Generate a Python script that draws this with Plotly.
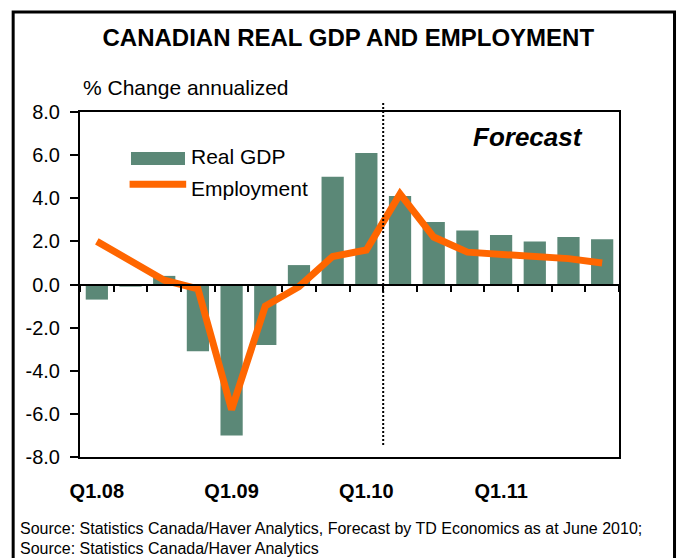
import plotly.graph_objects as go

quarters = ["Q1.08", "Q2.08", "Q3.08", "Q4.08", "Q1.09", "Q2.09", "Q3.09", "Q4.09",
            "Q1.10", "Q2.10", "Q3.10", "Q4.10", "Q1.11", "Q2.11", "Q3.11", "Q4.11"]
real_gdp = [-0.7, -0.1, 0.4, -3.1, -7.0, -2.8, 0.9, 5.0, 6.1, 4.1, 2.9, 2.5, 2.3, 2.0, 2.2, 2.1]
employment = [2.0, 1.1, 0.2, -0.2, -5.8, -1.0, -0.1, 1.3, 1.6, 4.2, 2.2, 1.5, 1.4, 1.3, 1.2, 1.0]
x_labels = ["Q1.08", "Q1.09", "Q1.10", "Q1.11"]
y_ticks = [-8, -6, -4, -2, 0, 2, 4, 6, 8]
y_ticktext = ["-8.0", "-6.0", "-4.0", "-2.0", "0.0", "2.0", "4.0", "6.0", "8.0"]
forecast_start = 8.5  # boundary between Q1.10 and Q2.10

GREEN = "#5B8877"
ORANGE = "#FF6600"
FONT = "Arial, Liberation Sans, sans-serif"

fig = go.Figure()
fig.add_trace(go.Bar(x=quarters, y=real_gdp, name="Real GDP", marker=dict(color=GREEN, line=dict(width=0)),
                     showlegend=False))
fig.add_trace(go.Scatter(x=quarters, y=employment, name="Employment", mode="lines",
                         line=dict(color=ORANGE, width=7), showlegend=False))
# helper trace for the zero-line axis with boundary ticks
fig.add_trace(go.Scatter(x=quarters, y=[None] * len(quarters), xaxis="x2", yaxis="y",
                         showlegend=False, hoverinfo="skip", mode="lines"))

fig.update_layout(
    width=679, height=558,
    margin=dict(l=80, r=60, t=112, b=101),
    paper_bgcolor="white", plot_bgcolor="white",
    font=dict(family=FONT, color="black"),
    bargap=0.34,
    xaxis=dict(type="category", categoryarray=quarters, range=[-0.5, 15.5],
               tickvals=x_labels, ticks="", showgrid=False, zeroline=False,
               showline=True, linewidth=2, linecolor="black", mirror=True,
               tickfont=dict(size=20, family=FONT, weight="bold"), ticklabelstandoff=15),
    xaxis2=dict(type="category", categoryarray=quarters, range=[-0.5, 15.5],
                overlaying="x", anchor="free", position=0.5, side="bottom",
                tickson="boundaries", ticks="outside", ticklen=6, tickwidth=2, tickcolor="black",
                showticklabels=False, showgrid=False, zeroline=False,
                showline=True, linewidth=2, linecolor="black"),
    yaxis=dict(range=[-8, 8], tickvals=y_ticks, ticktext=y_ticktext,
               ticks="outside", ticklen=8, tickwidth=2, tickcolor="black",
               showgrid=False, zeroline=False, showline=True, linewidth=2, linecolor="black",
               mirror=True, tickfont=dict(size=20, family=FONT), ticklabelstandoff=6),
    title=dict(text="<b>CANADIAN REAL GDP AND EMPLOYMENT</b>", x=0.513, xanchor="center",
               y=0.932, yanchor="middle", font=dict(size=24, family=FONT, color="black")),
)

shapes = [
    # outer frame
    dict(type="rect", xref="paper", yref="paper", x0=-0.124, x1=1.103, y0=-0.31, y1=1.29,
         line=dict(color="black", width=3), fillcolor="rgba(0,0,0,0)", layer="above"),
    # forecast divider
    dict(type="line", xref="x", yref="paper", x0=forecast_start, x1=forecast_start, y0=0.035, y1=1.029,
         line=dict(color="black", width=2, dash="2px,2px")),
    # legend swatches
    dict(type="rect", xref="paper", yref="paper", x0=0.0946, x1=0.1948, y0=0.8464, y1=0.884,
         fillcolor=GREEN, line=dict(width=0)),
    dict(type="line", xref="paper", yref="paper", x0=0.092, x1=0.197, y0=0.7904, y1=0.7904,
         line=dict(color=ORANGE, width=7)),
]
fig.update_layout(shapes=shapes)

annotations = [
    dict(text="% Change annualized", xref="paper", yref="paper", x=0.002, y=1.0696,
         xanchor="left", yanchor="middle", showarrow=False, font=dict(size=21, family=FONT)),
    dict(text="<b><i>Forecast</i></b>", xref="paper", yref="paper", x=0.831, y=0.9275,
         xanchor="center", yanchor="middle", showarrow=False, font=dict(size=26, family=FONT)),
    dict(text="Real GDP", xref="paper", yref="paper", x=0.202, y=0.8696,
         xanchor="left", yanchor="middle", showarrow=False, font=dict(size=21, family=FONT)),
    dict(text="Employment", xref="paper", yref="paper", x=0.202, y=0.7797,
         xanchor="left", yanchor="middle", showarrow=False, font=dict(size=21, family=FONT)),
    dict(text="Source: Statistics Canada/Haver Analytics, Forecast by TD Economics as at June 2010;",
         xref="paper", yref="paper", x=-0.115, y=-0.2058, xanchor="left", yanchor="middle",
         showarrow=False, font=dict(size=16, family=FONT)),
    dict(text="Source: Statistics Canada/Haver Analytics",
         xref="paper", yref="paper", x=-0.115, y=-0.2638, xanchor="left", yanchor="middle",
         showarrow=False, font=dict(size=16, family=FONT)),
]
fig.update_layout(annotations=annotations)

fig.write_html("out.html")
